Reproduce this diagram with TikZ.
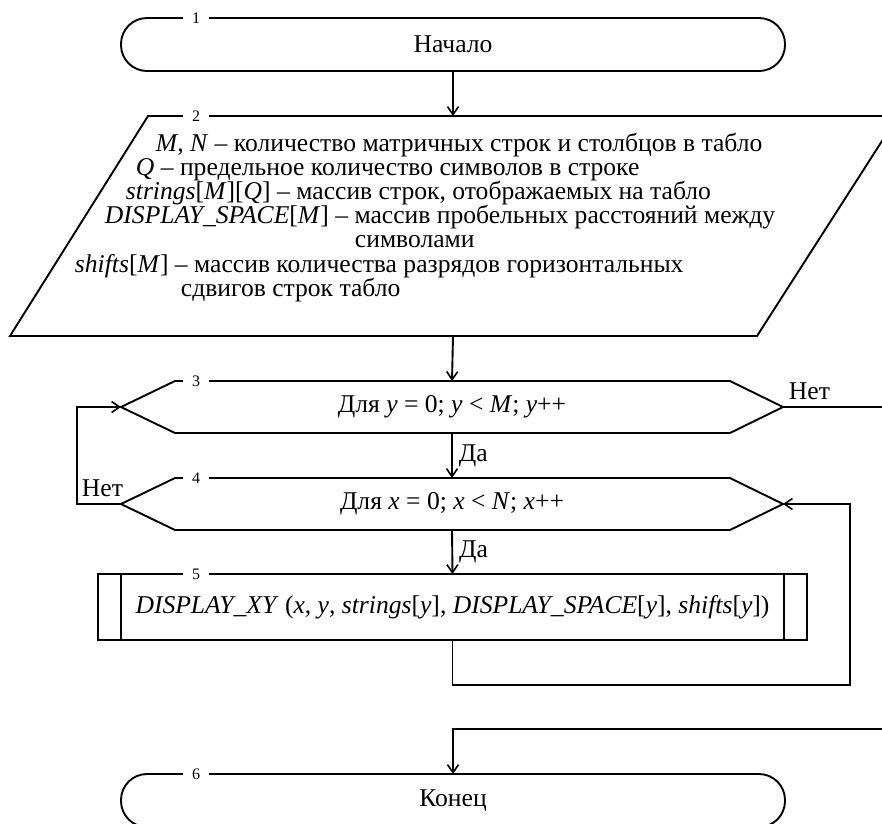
\documentclass[tikz,border=0pt]{standalone}
\usepackage{fontspec}
\setmainfont{Liberation Serif}
\usetikzlibrary{arrows.meta}
\begin{document}
\begin{tikzpicture}[x=1pt,y=-1pt,
  line width=1.9pt,
  num/.style={font=\fontsize{16}{16}\selectfont, fill=white, inner xsep=9pt, inner ysep=1pt},
  arr/.style={-{Straight Barb[length=8pt,width=11pt,line width=1.6pt]}},
  box/.style={draw=none, inner sep=0pt, outer sep=0pt, font=\fontsize{25.6}{25.6}\selectfont},
  lbl/.style={font=\fontsize{25.6}{25.6}\selectfont, inner sep=0pt}
]
\useasboundingbox (0,0) rectangle (882,823);
\begin{scope}
\clip (0,0) rectangle (882,823);
% 1 terminal
\node[box, minimum width=664pt, minimum height=53pt] (t1) at (453,44.5) {Начало};
\draw[rounded corners=26pt] (t1.north west) rectangle (t1.south east);
% 2 parallelogram
\node[box, minimum width=10pt, minimum height=220pt] (p2) at (453,226) {};
\draw (148,116) -- (898,116) -- (757,336) -- (10,336) -- cycle;
\node[lbl, anchor=base west] (l1) at (155,151) {\textit{M}, \textit{N} – количество матричных строк и столбцов в табло};
\node[lbl, anchor=base west] (l2) at (135,175) {\textit{Q} – предельное количество символов в строке};
\node[lbl, anchor=base west] (l3) at (125,199) {\textit{strings}[\textit{M}][\textit{Q}] – массив строк, отображаемых на табло};
\node[lbl, anchor=base west] (l4) at (104,223) {\textit{DISPLAY\_SPACE}[\textit{M}] – массив пробельных расстояний между};
\node[lbl, anchor=base west] (l5) at (354,247) {символами};
\node[lbl, anchor=base west] (l6) at (74,272) {\textit{shifts}[\textit{M}] – массив количества разрядов горизонтальных};
\node[lbl, anchor=base west] (l7) at (180,296) {сдвигов строк табло};
% 3 hexagon
\node[box, minimum width=662pt, minimum height=52pt] (h3) at (452,407) {Для \textit{y} = 0; \textit{y} < \textit{M}; \textit{y}++};
\draw (h3.west) -- ([xshift=54pt]h3.north west) -- ([xshift=-53pt]h3.north east) -- (h3.east) -- ([xshift=-53pt]h3.south east) -- ([xshift=54pt]h3.south west) -- cycle;
% 4 hexagon
\node[box, minimum width=662pt, minimum height=52pt] (h4) at (452,504) {Для \textit{x} = 0; \textit{x} < \textit{N}; \textit{x}++};
\draw (h4.west) -- ([xshift=54pt]h4.north west) -- ([xshift=-53pt]h4.north east) -- (h4.east) -- ([xshift=-53pt]h4.south east) -- ([xshift=54pt]h4.south west) -- cycle;
% 5 subprocess
\node[box, minimum width=709pt, minimum height=66pt] (s5) at (452.5,607) {\textit{DISPLAY\_XY} (\textit{x}, \textit{y}, \textit{strings}[\textit{y}], \textit{DISPLAY\_SPACE}[\textit{y}], \textit{shifts}[\textit{y}])};
\draw (s5.north west) rectangle (s5.south east);
\draw ([xshift=23pt]s5.north west) -- ([xshift=23pt]s5.south west);
\draw ([xshift=-23pt]s5.north east) -- ([xshift=-23pt]s5.south east);
% 6 terminal
\node[box, minimum width=664pt, minimum height=53pt] (t6) at (453,800.5) {Конец};
\draw[rounded corners=26pt] (t6.north west) rectangle (t6.south east);
% numbers
\node[num] (n1) at (196,18) {1};
\node[num] (n2) at (196,116) {2};
\node[num] (n3) at (196,381) {3};
\node[num] (n4) at (196,478) {4};
\node[num] (n5) at (196,574) {5};
\node[num] (n6) at (196,774) {6};
% connectors
\coordinate (e1) at (895,407);
\coordinate (e2) at (895,729);
\coordinate (c1) at (850,685);
\coordinate (c2) at (77,504);
\draw[arr] (t1.south) -- (p2.north);
\draw[arr] (p2.south) -- (h3.north);
\draw[arr] (h3.south) -- (h4.north) node[lbl, midway, right=6pt] (da1) {Да};
\draw[arr] (h4.south) -- (s5.north) node[lbl, midway, right=6pt] (da2) {Да};
\draw[arr] (s5.south) |- (c1) |- (h4.east);
\draw[arr] (h4.west) -- (c2) |- (h3.west);
\draw (h3.east) -- (e1);
\draw[arr] (e2) -| (t6.north);
\node[lbl, anchor=south west] (net1) at (788,401) {Нет};
\node[lbl, anchor=south west] (net2) at (81,498) {Нет};
\end{scope}
\end{tikzpicture}
\end{document}
